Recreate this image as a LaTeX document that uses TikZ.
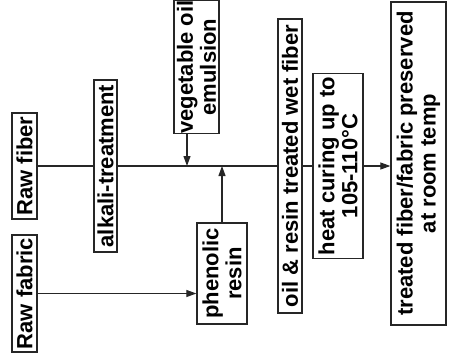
\documentclass[tikz,border=0pt]{standalone}
\usepackage{fontspec}
\setmainfont{Liberation Sans}
\usetikzlibrary{arrows.meta}
\begin{document}
\begin{tikzpicture}
      [x=1pt,y=-1pt,color=black!85,line width=1.1pt,
       every node/.style={rectangle,draw=black!85,line width=1.3pt,rotate=90,inner sep=0pt,
         align=center,text=black,font=\fontsize{22}{23}\selectfont\bfseries},
       flow/.style={-{Triangle[length=10pt,width=7pt]}}]
      \useasboundingbox (0,0) rectangle (449,356);
      \node[minimum width=106pt,minimum height=25pt] (rawfiber) at (24.5,166) {Raw fiber};
      \node[minimum width=117pt,minimum height=25pt] (rawfabric) at (24.5,293.5) {Raw fabric};
      \node[minimum width=172pt,minimum height=23pt] (alkali) at (105.5,166) {alkali-treatment};
      \node[minimum width=130pt,minimum height=45pt] (vegoil) at (196.5,67) {vegetable oil\\emulsion};
      \node[minimum width=101pt,minimum height=50pt] (phenolic) at (222,273.5) {phenolic\\resin};
      \node[minimum width=294pt,minimum height=24pt] (oilresin) at (290,166) {oil \& resin treated wet fiber};
      \node[minimum width=185pt,minimum height=50pt] (heat) at (338,166) {heat curing up to\\105-110°C};
      \node[minimum width=323pt,minimum height=55pt] (final) at (418.5,163.5) {treated fiber/fabric preserved\\at room temp};

      \coordinate (vdrop) at (187,166);
      \coordinate (pjoin) at (222,166);

      \foreach \from/\to in {rawfiber/alkali,alkali/oilresin,oilresin/heat}
      \draw (\from) -- (\to);
      \draw[flow] (heat) -- (heat -| final.north);

      \draw[flow] (vegoil.west -| vdrop) -- (vdrop);
      \draw[flow] (phenolic.east) -- (pjoin);
      \draw[flow] (rawfabric.south) -- (rawfabric.south -| phenolic.north);
\end{tikzpicture}
\end{document}
